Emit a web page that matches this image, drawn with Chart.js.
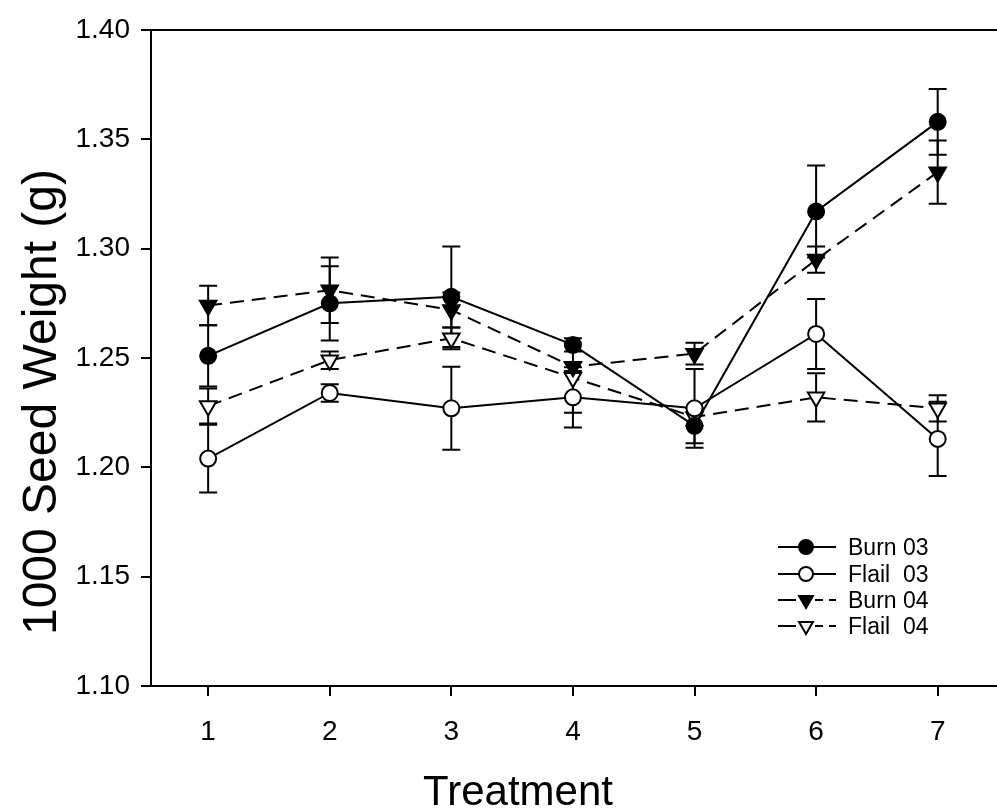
<!DOCTYPE html>
<html>
<head>
<meta charset="utf-8">
<script src="https://cdn.jsdelivr.net/npm/chart.js@4.4.1/dist/chart.umd.min.js"></script>
<style>
  html, body { margin: 0; padding: 0; background: #fff; overflow: hidden; width: 997px; height: 812px; }
  #wrap { position: relative; width: 997px; height: 812px; overflow: hidden; }
  canvas { position: absolute; left: 0; top: 0; }
  #legend { position: absolute; left: 770px; top: 534px; font-family: "Liberation Sans", Arial, sans-serif; font-size: 23px; color: #000; }
  .row { position: absolute; left: 0; height: 26px; white-space: pre; }
  .row svg { position: absolute; left: 0; top: 0; }
  .row span { position: absolute; left: 78px; top: 0; line-height: 26px; }
  .axtitle { position: absolute; font-family: "Liberation Sans", Arial, sans-serif; color: #000; white-space: nowrap; text-align: center; }
  #ytitle { left: -260px; top: 378px; width: 600px; height: 48px; line-height: 48px; font-size: 48px; transform: rotate(-90deg); transform-origin: 300px 24px; }
  #xtitle { left: 318px; top: 770px; width: 400px; height: 42px; line-height: 42px; font-size: 42px; }
</style>
</head>
<body>
<div id="wrap">
  <canvas id="c" width="1010" height="812"></canvas>
  <div id="legend"></div>
  <div class="axtitle" id="ytitle"></div>
  <div class="axtitle" id="xtitle"></div>
</div>
<script>
// ---- data ----
const treatments = [1, 2, 3, 4, 5, 6, 7];
const yTicks = [1.10, 1.15, 1.20, 1.25, 1.30, 1.35, 1.40];
const xTitle = "Treatment";
const yTitle = "1000 Seed Weight (g)";

const burn03     = [1.251, 1.275, 1.278, 1.256, 1.219, 1.317, 1.358];
const burn03Err  = [0.014, 0.017, 0.023, 0.003, 0.008, 0.021, 0.015];
const flail03    = [1.204, 1.234, 1.227, 1.232, 1.227, 1.261, 1.213];
const flail03Err = [0.0155, 0.004, 0.019, 0.0138, 0.018, 0.016, 0.017];
const burn04     = [1.274, 1.281, 1.272, 1.246, 1.252, 1.295, 1.335];
const burn04Err  = [0.009, 0.015, 0.008, 0.002, 0.005, 0.006, 0.0145];
const flail04    = [1.228, 1.249, 1.259, 1.241, 1.223, 1.232, 1.227];
const flail04Err = [0.008, 0.004, 0.005, 0.016, 0.004, 0.011, 0.006];

const seriesNames = ["Burn 03", "Flail  03", "Burn 04", "Flail  04"];

const FONT = '"Liberation Sans", Arial, Helvetica, sans-serif';

function pts(vals) { return treatments.map((t, i) => ({ x: t, y: vals[i] })); }

function makeDs(label, vals, errs, style, filled, dashed) {
  return {
    label: label,
    data: pts(vals),
    errors: errs,
    borderColor: '#000',
    borderWidth: 2,
    borderDash: dashed ? [14, 8] : [],
    tension: 0,
    fill: false,
    pointStyle: style,
    pointRotation: style === 'triangle' ? 180 : 0,
    pointRadius: style === 'triangle' ? 9.5 : 8,
    pointBorderWidth: 2,
    pointBorderColor: '#000',
    pointBackgroundColor: filled ? '#000' : '#fff',
    pointHoverRadius: 0
  };
}

const datasets = [
  makeDs(seriesNames[0], burn03, burn03Err, 'circle', true, false),
  makeDs(seriesNames[1], flail03, flail03Err, 'circle', false, false),
  makeDs(seriesNames[2], burn04, burn04Err, 'triangle', true, true),
  makeDs(seriesNames[3], flail04, flail04Err, 'triangle', false, true)
];

const errorBars = {
  id: 'errorBars',
  beforeDatasetsDraw(chart) {
    const { ctx, scales: { x, y } } = chart;
    ctx.save();
    ctx.strokeStyle = '#000';
    ctx.lineWidth = 2;
    ctx.setLineDash([]);
    chart.data.datasets.forEach(ds => {
      ds.data.forEach((p, i) => {
        const e = ds.errors[i];
        const px = x.getPixelForValue(p.x);
        const top = y.getPixelForValue(p.y + e);
        const bot = y.getPixelForValue(p.y - e);
        const cw = 9;
        ctx.beginPath();
        ctx.moveTo(px, top); ctx.lineTo(px, bot);
        ctx.moveTo(px - cw, top); ctx.lineTo(px + cw, top);
        ctx.moveTo(px - cw, bot); ctx.lineTo(px + cw, bot);
        ctx.stroke();
      });
    });
    ctx.restore();
  }
};

const topFrame = {
  id: 'topFrame',
  afterDraw(chart) {
    const { ctx, chartArea } = chart;
    ctx.save();
    ctx.strokeStyle = '#000';
    ctx.lineWidth = 2;
    ctx.beginPath();
    ctx.moveTo(chartArea.left - 1, chartArea.top);
    ctx.lineTo(chartArea.right, chartArea.top);
    ctx.stroke();
    ctx.restore();
  }
};

new Chart(document.getElementById('c'), {
  type: 'line',
  data: { datasets: datasets },
  plugins: [errorBars, topFrame],
  options: {
    responsive: false,
    animation: false,
    events: [],
    layout: { padding: { top: 30, right: 5, left: 0, bottom: 0 } },
    plugins: { legend: { display: false }, tooltip: { enabled: false } },
    scales: {
      x: {
        type: 'linear',
        min: 0.53,
        max: 7.5,
        afterBuildTicks: s => { s.ticks = treatments.map(v => ({ value: v })); },
        afterFit: s => { s.height = 126; },
        grid: { display: true, drawOnChartArea: false, drawTicks: true, tickLength: 10, color: '#000', lineWidth: 2 },
        border: { display: true, color: '#000', width: 2 },
        ticks: { color: '#000', font: { family: FONT, size: 28 }, padding: 19, maxRotation: 0, callback: v => String(v) },
        title: { display: false }
      },
      y: {
        type: 'linear',
        min: 1.10,
        max: 1.40,
        afterBuildTicks: s => { s.ticks = yTicks.map(v => ({ value: v })); },
        afterFit: s => { s.width = 151; },
        grid: { display: true, drawOnChartArea: false, drawTicks: true, tickLength: 10, color: '#000', lineWidth: 2 },
        border: { display: true, color: '#000', width: 2 },
        ticks: { color: '#000', font: { family: FONT, size: 28 }, padding: 11, callback: v => Number(v).toFixed(2) },
        title: { display: false }
      }
    }
  }
});

document.getElementById('xtitle').textContent = xTitle;
document.getElementById('ytitle').textContent = yTitle;

// ---- HTML legend (real text) ----
const legendStyles = [
  { filled: true, tri: false, dashed: false },
  { filled: false, tri: false, dashed: false },
  { filled: true, tri: true, dashed: true },
  { filled: false, tri: true, dashed: true }
];
const rowTops = [0, 27, 53, 79];
const legendEl = document.getElementById('legend');
seriesNames.forEach((name, i) => {
  const st = legendStyles[i];
  const row = document.createElement('div');
  row.className = 'row';
  row.style.top = rowTops[i] + 'px';
  const cx = 36, cy = 13;
  let lines;
  if (st.dashed) {
    lines = `<line x1="8" y1="${cy}" x2="26" y2="${cy}" stroke="#000" stroke-width="2"/>` +
            `<line x1="45" y1="${cy}" x2="53" y2="${cy}" stroke="#000" stroke-width="2"/>` +
            `<line x1="59" y1="${cy}" x2="66" y2="${cy}" stroke="#000" stroke-width="2"/>`;
  } else {
    lines = `<line x1="8" y1="${cy}" x2="66" y2="${cy}" stroke="#000" stroke-width="2"/>`;
  }
  const fill = st.filled ? '#000' : '#fff';
  let marker;
  if (st.tri) {
    const r = 8;
    const p1 = `${cx - r * 0.866},${cy - r / 2}`, p2 = `${cx + r * 0.866},${cy - r / 2}`, p3 = `${cx},${cy + r}`;
    marker = `<polygon points="${p1} ${p2} ${p3}" fill="${fill}" stroke="#000" stroke-width="2"/>`;
  } else {
    marker = `<circle cx="${cx}" cy="${cy}" r="7" fill="${fill}" stroke="#000" stroke-width="2"/>`;
  }
  row.innerHTML = `<svg width="72" height="26">${lines}${marker}</svg><span>${name}</span>`;
  legendEl.appendChild(row);
});
</script>
</body>
</html>
